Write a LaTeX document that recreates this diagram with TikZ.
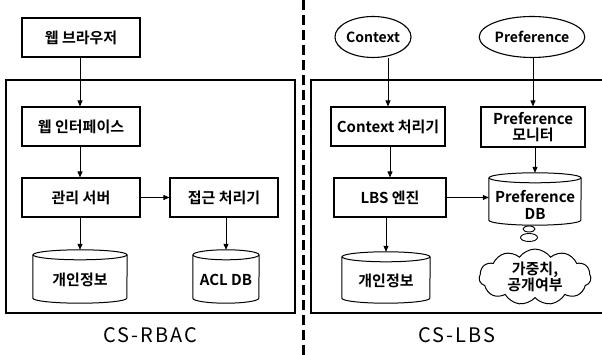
\documentclass[tikz,border=0pt]{standalone}
\usepackage{fontspec}
\setmainfont{Noto Sans CJK KR}[BoldFont={Noto Sans CJK KR Bold}]
\usetikzlibrary{arrows.meta,shapes.geometric,shapes.symbols,calc}
\newcommand\drawcyl[3]{%
  \draw[line width=1pt] ($(#1.north west)+(0,-#3)$) -- ($(#1.south west)+(0,#3)$)
     arc[start angle=180,end angle=360,x radius=#2,y radius=#3] -- ($(#1.north east)+(0,-#3)$);
  \draw[line width=1pt] ($(#1.north)+(0,-#3)$) ellipse[x radius=#2,y radius=#3];
}
\begin{document}
\begin{tikzpicture}[x=1pt,y=1pt,
  txt/.style={font=\fontsize{15}{16.5}\selectfont\bfseries},
  ltxt/.style={font=\fontsize{14}{16.5}\selectfont\bfseries},
  box/.style={txt, draw, line width=1.1pt, minimum height=39pt, inner sep=0pt, align=center},
  oval/.style={ltxt, draw, ellipse, line width=1.1pt, minimum height=41pt, inner sep=0pt},
  cyl/.style={minimum height=#1, inner sep=0pt},
  cyltext/.style={txt, inner sep=0pt, align=center},
  frame/.style={draw, line width=1.8pt},
  arr/.style={-{Triangle[length=6pt,width=5pt]}, line width=0.8pt},
  caption/.style={font=\fontsize{20}{22}\selectfont\addfontfeature{LetterSpace=10}}
]
\useasboundingbox (0,0) rectangle (602,355);
% frames and divider
\draw[frame] (6,42) rectangle (295,275);
\draw[frame] (311,42) rectangle (606,275);
\draw[line width=3pt, dash pattern=on 10pt off 5pt] (303,355) -- (303,0);

% left side
\node[box, minimum width=118pt] (browser) at (81,317.5) {웹 브라우저};
\node[box, minimum width=118pt] (webif) at (81,228.5) {웹 인터페이스};
\node[box, minimum width=118pt] (mgmt) at (81,157.5) {관리 서버};
\node[box, minimum width=108pt] (access) at (224,157.5) {접근 처리기};
\node[cyl=53pt, minimum width=94pt] (pinfoL) at (80,78.5) {};
\drawcyl{pinfoL}{47pt}{5pt}
\node[cyltext] (pinfoLt) at ($(pinfoL)+(0,-3)$) {개인정보};
\node[cyl=53pt, minimum width=66pt] (acl) at (226,78.5) {};
\drawcyl{acl}{33pt}{5pt}
\node[cyltext] (aclt) at ($(acl)+(0,-3)$) {ACL DB};
\node[caption] (rbac) at (150,20) {CS-RBAC};

\draw[arr] (browser.south -| pinfoL.north) -- (webif.north -| pinfoL.north);
\draw[arr] (webif.south -| pinfoL.north) -- (mgmt.north -| pinfoL.north);
\draw[arr] (mgmt.east) -- (access.west);
\draw[arr] (mgmt.south -| pinfoL.north) -- (pinfoL.north);
\draw[arr] (access.south -| acl.north) -- (acl.north);

% right side
\node[oval, minimum width=73pt] (ctx) at (373,318) {Context};
\node[oval, minimum width=103pt] (pref) at (532,318) {Preference};
\node[box, minimum width=114pt] (ctxproc) at (388,228.5) {Context 처리기};
\node[box, minimum width=104pt, minimum height=40pt] (prefmon) at (533,228) {Preference\\모니터};
\node[box, minimum width=112pt] (lbs) at (390,157.5) {LBS 엔진};
\node[cyl=52pt, minimum width=92pt] (prefdb) at (535,156) {};
\drawcyl{prefdb}{46pt}{5pt}
\node[cyltext] (prefdbt) at ($(prefdb)+(0,-6)$) {Preference\\DB};
\node[cyl=51pt, minimum width=88pt] (pinfoR) at (386,77.5) {};
\drawcyl{pinfoR}{44pt}{5pt}
\node[cyltext] (pinfoRt) at ($(pinfoR)+(0,-3)$) {개인정보};
\node[txt, draw, line width=1pt, cloud, cloud puffs=11, cloud puff arc=110, aspect=2.3,
      minimum width=112pt, minimum height=52pt, inner sep=0pt, align=center] (cloud) at (535,78) {가중치,\\공개여부};
\node[draw, ellipse, line width=0.9pt, minimum width=12pt, minimum height=6pt, inner sep=0pt] (b1) at (529,126) {};
\node[draw, ellipse, line width=0.9pt, minimum width=17pt, minimum height=8pt, inner sep=0pt] (b2) at (529,117.5) {};
\node[caption] (lbslabel) at (457,20) {CS-LBS};

\draw[arr] (ctx.south -| ctxproc.north) -- (ctxproc.north);
\draw[arr] (pref.south -| prefmon.north) -- (prefmon.north);
\draw[arr] (ctxproc.south -| lbs.north) -- (lbs.north);
\draw[arr] (prefmon.south -| prefdb.north) -- (prefdb.north);
\draw[arr] (lbs.east) -- (lbs.east -| prefdb.west);
\draw[arr] (lbs.south -| pinfoR.north) -- (pinfoR.north);
\end{tikzpicture}
\end{document}
